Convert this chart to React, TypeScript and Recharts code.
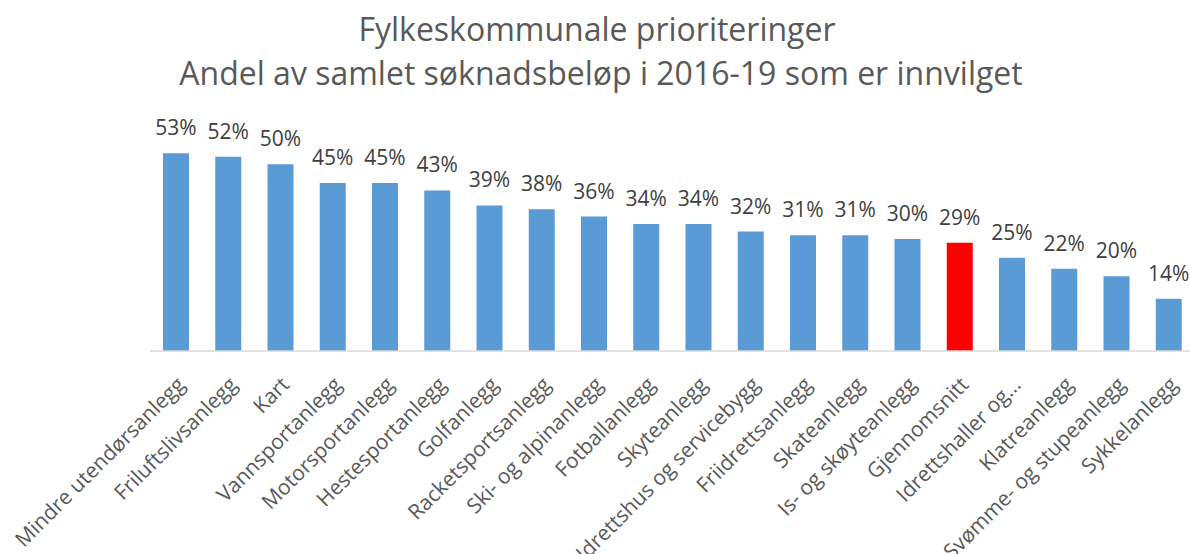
import { BarChart, Bar, Cell, XAxis, YAxis, LabelList } from 'recharts';

const CATEGORIES = [
  'Mindre utendørsanlegg',
  'Friluftslivsanlegg',
  'Kart',
  'Vannsportanlegg',
  'Motorsportanlegg',
  'Hestesportanlegg',
  'Golfanlegg',
  'Racketsportsanlegg',
  'Ski- og alpinanlegg',
  'Fotballanlegg',
  'Skyteanlegg',
  'Idrettshus og servicebygg',
  'Friidrettsanlegg',
  'Skateanlegg',
  'Is- og skøyteanlegg',
  'Gjennomsnitt',
  'Idrettshaller og...',
  'Klatreanlegg',
  'Svømme- og stupeanlegg',
  'Sykkelanlegg',
];
const SHARES = [53, 52, 50, 45, 45, 43, 39, 38, 36, 34, 34, 32, 31, 31, 30, 29, 25, 22, 20, 14];
const HIGHLIGHT = 'Gjennomsnitt';

const TITLE = ['Fylkeskommunale prioriteringer', 'Andel av samlet søknadsbeløp i 2016-19 som er innvilget'];

const BLUE = '#5b9bd5';
const RED = '#ff0000';
const FONT = '"Open Sans", sans-serif';

const data = CATEGORIES.map((name, i) => ({ name, value: SHARES[i] }));

function AngledTick({ x, y, payload }: any) {
  return (
    <g transform={`translate(${x + 10},${y + 35})`}>
      <text
        transform="rotate(-45)"
        textAnchor="end"
        fontFamily={FONT}
        fontSize={21}
        fill="#595959"
      >
        {payload.value}
      </text>
    </g>
  );
}

function TopLabel({ x, y, width, value }: any) {
  return (
    <text
      x={x + width / 2}
      y={y - 18}
      textAnchor="middle"
      fontFamily={FONT}
      fontSize={21}
      fill="#404040"
    >
      {`${value}%`}
    </text>
  );
}

export default function App() {
  return (
    <div
      style={{
        position: 'absolute',
        left: 0,
        top: 0,
        width: 1190,
        height: 554,
        overflow: 'hidden',
        background: '#fff',
      }}
    >
      <svg width={1190} height={110} style={{ position: 'absolute', left: 0, top: 0 }}>
        <text x={597} y={41} textAnchor="middle" fontFamily={FONT} fontSize={32} fill="#595959">
          {TITLE[0]}
        </text>
        <text x={601} y={85} textAnchor="middle" fontFamily={FONT} fontSize={32} fill="#595959">
          {TITLE[1]}
        </text>
      </svg>
      <BarChart
        width={1200}
        height={554}
        data={data}
        margin={{ top: 127, right: 5, left: 150, bottom: 0 }}
      >
        <XAxis
          dataKey="name"
          interval={0}
          height={203}
          tickLine={false}
          tickSize={0}
          tickMargin={0}
          axisLine={{ stroke: '#d9d9d9', strokeWidth: 1.5 }}
          tick={<AngledTick />}
        />
        <YAxis hide domain={[0, 60]} />
        <Bar dataKey="value" barSize={26} isAnimationActive={false}>
          {data.map((d) => (
            <Cell key={d.name} fill={d.name === HIGHLIGHT ? RED : BLUE} />
          ))}
          <LabelList dataKey="value" content={<TopLabel />} />
        </Bar>
      </BarChart>
    </div>
  );
}
